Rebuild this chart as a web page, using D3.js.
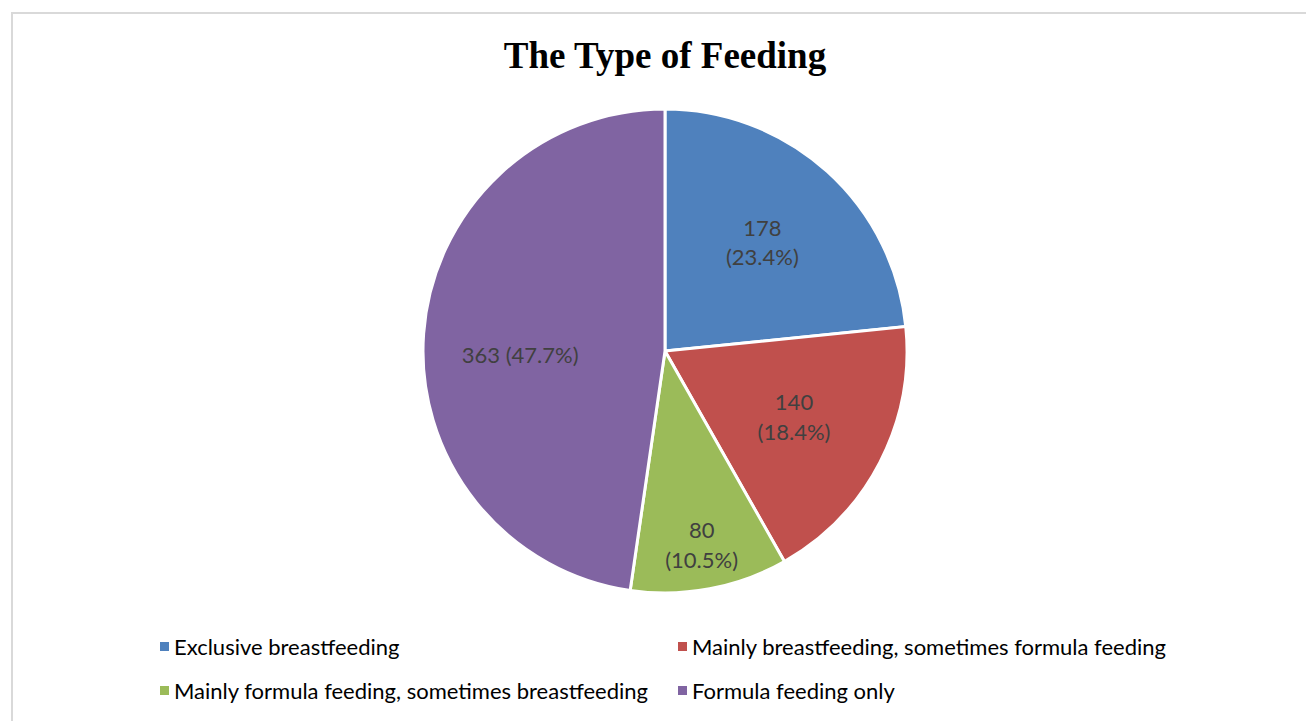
<!DOCTYPE html>
<html>
<head>
<meta charset="utf-8">
<script src="https://cdn.jsdelivr.net/npm/d3@7"></script>
<style>
  body { margin: 0; background: #fff; }
  svg { display: block; }
</style>
</head>
<body>
<svg id="chart" width="1306" height="721"></svg>
<script>
// data
const categories = [
  "Exclusive breastfeeding",
  "Mainly breastfeeding, sometimes formula feeding",
  "Mainly formula feeding, sometimes breastfeeding",
  "Formula feeding only"
]
const counts = [178, 140, 80, 363]
const percents = ["23.4%", "18.4%", "10.5%", "47.7%"]
const colors = ["#4F81BD", "#C0504D", "#9BBB59", "#8064A2"]

const width = 1306
const height = 721
const cx = 665, cy = 351, radius = 242
const labelFont = "Lato, 'Open Sans', sans-serif"

const svg = d3.select('#chart')

// chart border
svg.append('rect')
  .attr('x', 12).attr('y', 13)
  .attr('width', width).attr('height', height)
  .attr('fill', 'none')
  .attr('stroke', '#d9d9d9')
  .attr('stroke-width', 2)

// title
svg.append('text')
  .attr('x', cx).attr('y', 68)
  .attr('text-anchor', 'middle')
  .attr('font-family', "'Liberation Serif', 'Times New Roman', serif")
  .attr('font-weight', 'bold')
  .attr('font-size', 37)
  .attr('fill', '#000')
  .text('The Type of Feeding')

const rows = categories.map((c, i) => ({ name: c, value: counts[i], pct: percents[i], color: colors[i] }))
const total = d3.sum(counts)

const pie = d3.pie().sort(null).value(d => d.value)
const arc = d3.arc().innerRadius(0).outerRadius(radius)
const arcs = pie(rows)

const g = svg.append('g').attr('transform', `translate(${cx},${cy})`)

g.selectAll('path')
  .data(arcs)
  .join('path')
  .attr('d', arc)
  .attr('fill', d => d.data.color)
  .attr('stroke', '#fff')
  .attr('stroke-width', 3)

// labels: small slices get pushed further out
const labelPos = d => {
  const share = d.data.value / total
  const r = share < 0.15 ? radius * 0.82 : radius * 0.6
  return d3.arc().innerRadius(r).outerRadius(r).centroid(d)
}

const labels = g.selectAll('text.lbl')
  .data(arcs)
  .join('text')
  .attr('class', 'lbl')
  .attr('text-anchor', 'middle')
  .attr('font-family', labelFont)
  .attr('font-size', 22)
  .attr('fill', '#404040')
  .attr('transform', d => { const p = labelPos(d); return `translate(${p[0]},${p[1]})` })

labels.each(function (d) {
  const t = d3.select(this)
  // the big slice has its label on one line, a bit below centre like Excel
  if (d.data.value / total > 0.4) {
    t.append('tspan').attr('x', 0).attr('dy', '1.0em').text(`${d.data.value} (${d.data.pct})`)
  } else {
    t.append('tspan').attr('x', 0).attr('dy', '-0.35em').text(d.data.value)
    t.append('tspan').attr('x', 0).attr('dy', '1.35em').text(`(${d.data.pct})`)
  }
})

// legend
const legendX = [160, 678]
const legendY = [647, 691]
const legend = svg.append('g')
rows.forEach((d, i) => {
  const x = legendX[i % 2], y = legendY[Math.floor(i / 2)]
  legend.append('rect')
    .attr('x', x).attr('y', y - 5)
    .attr('width', 9).attr('height', 9)
    .attr('fill', d.color)
  legend.append('text')
    .attr('x', x + 14).attr('y', y)
    .attr('dy', '0.35em')
    .attr('font-family', labelFont)
    .attr('font-size', 22)
    .attr('fill', '#000')
    .text(d.name)
})
</script>
</body>
</html>
